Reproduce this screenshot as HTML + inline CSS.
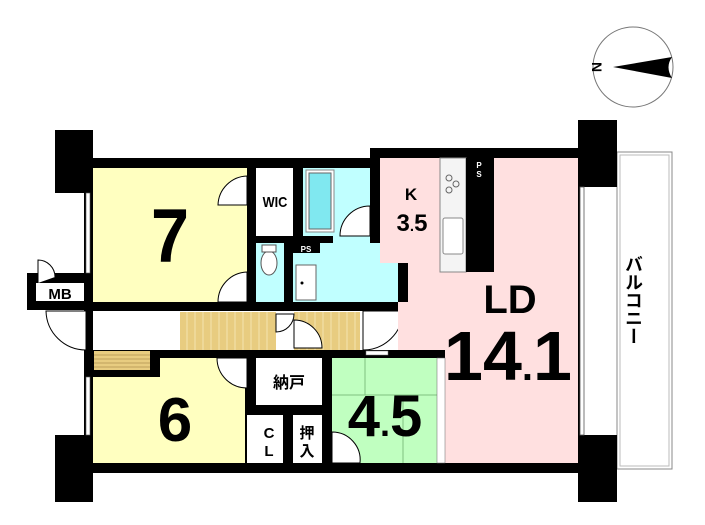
<!DOCTYPE html>
<html><head><meta charset="utf-8"><style>
html,body{margin:0;padding:0;background:#fff;}
svg{display:block;}
text{font-family:"Liberation Sans","Noto Sans CJK JP",sans-serif;font-weight:bold;fill:#000;}
</style></head><body>
<svg width="705" height="525" viewBox="0 0 705 525" xmlns="http://www.w3.org/2000/svg">
<circle cx="633" cy="67" r="40" fill="#fff" stroke="#777" stroke-width="1"/>
<path d="M613 67 L672 57 Q665 67 672 78 Z" fill="#000"/>
<text x="0" y="0" font-size="14" font-family="Liberation Serif" transform="translate(592,67) rotate(90)" text-anchor="middle">N</text>

<rect x="617" y="152" width="55" height="317" fill="#fff" stroke="#888" stroke-width="1"/>
<rect x="620" y="155" width="49" height="311" fill="none" stroke="#bbb" stroke-width="1"/>

<rect x="84" y="158" width="296" height="200" fill="#000"/>
<rect x="370" y="148" width="210" height="325" fill="#000"/>
<rect x="84" y="340" width="290" height="133" fill="#000"/>
<rect x="27" y="273" width="66" height="37" fill="#000"/>

<rect x="55" y="130" width="38" height="63" fill="#000"/>
<rect x="55" y="435" width="38" height="67" fill="#000"/>
<rect x="578" y="120" width="39" height="67" fill="#000"/>
<rect x="578" y="435" width="39" height="67" fill="#000"/>

<rect x="93" y="168" width="154" height="134" fill="#ffffc0"/>
<text x="170" y="262" font-size="76" text-anchor="middle" transform="translate(170,0) scale(0.9,1) translate(-170,0)">7</text>
<rect x="256" y="168" width="37" height="68" fill="#fff"/>
<text x="275" y="207" font-size="15" text-anchor="middle" transform="translate(275,0) scale(0.85,1) translate(-275,0)">WIC</text>
<rect x="303" y="168" width="67" height="68" fill="#c0ffff"/>
<rect x="306" y="170" width="28" height="62" fill="#fff" stroke="#888"/>
<rect x="309" y="173" width="22" height="56" fill="#80e8f0" stroke="#666"/>
<rect x="256" y="243" width="28" height="59" fill="#c0ffff"/>
<ellipse cx="269" cy="263" rx="8" ry="12" fill="#fff" stroke="#555"/>
<rect x="262" y="245" width="14" height="7" fill="#fff" stroke="#555"/>
<rect x="293" y="243" width="105" height="59" fill="#c0ffff"/>
<rect x="333" y="236" width="37" height="10" fill="#c0ffff"/>
<rect x="293" y="243" width="27" height="10" fill="#000"/>
<text x="306" y="252" font-size="8" text-anchor="middle" style="fill:#fff">PS</text>
<rect x="296" y="265" width="20" height="35" fill="#fff" stroke="#666"/>
<circle cx="302" cy="283" r="1.5" fill="#000"/>
<rect x="36" y="283" width="48" height="18" fill="#fff"/>
<text x="60" y="299" font-size="15" text-anchor="middle">MB</text>
<path d="M38 283 V260 A17 17 0 0 1 55 277" fill="#fff" stroke="#000"/>
<rect x="93" y="311" width="310" height="39" fill="#fff"/>
<rect x="180" y="312" width="180" height="38" fill="#e8cc80"/>
<g stroke="#f4e4b0" stroke-width="1">
<line x1="187" y1="312" x2="187" y2="350"/><line x1="195" y1="312" x2="195" y2="350"/><line x1="203" y1="312" x2="203" y2="350"/><line x1="211" y1="312" x2="211" y2="350"/><line x1="219" y1="312" x2="219" y2="350"/><line x1="227" y1="312" x2="227" y2="350"/><line x1="235" y1="312" x2="235" y2="350"/><line x1="243" y1="312" x2="243" y2="350"/><line x1="251" y1="312" x2="251" y2="350"/><line x1="259" y1="312" x2="259" y2="350"/><line x1="267" y1="312" x2="267" y2="350"/><line x1="283" y1="312" x2="283" y2="350"/><line x1="291" y1="312" x2="291" y2="350"/><line x1="299" y1="312" x2="299" y2="350"/><line x1="307" y1="312" x2="307" y2="350"/><line x1="315" y1="312" x2="315" y2="350"/><line x1="323" y1="312" x2="323" y2="350"/><line x1="331" y1="312" x2="331" y2="350"/><line x1="339" y1="312" x2="339" y2="350"/><line x1="347" y1="312" x2="347" y2="350"/><line x1="355" y1="312" x2="355" y2="350"/>
</g>
<rect x="276" y="312" width="18" height="38" fill="#fff"/>
<path d="M46 311 A40 40 0 0 0 86 350 V311 Z" fill="#fff" stroke="#000"/>
<path d="M403 311 A40 40 0 0 1 363 350 V311 Z" fill="#fff" stroke="#000"/>
<path d="M218 302 A30 30 0 0 1 247 272 V302 Z" fill="#fff" stroke="#000"/>
<path d="M218 205 A30 30 0 0 1 247 176 V205 Z" fill="#fff" stroke="#000"/>
<path d="M340 236 A30 30 0 0 1 370 206 V236 Z" fill="#fff" stroke="#000"/>
<path d="M276 332 A18 18 0 0 0 294 314 H276 Z" fill="#fff" stroke="#000"/>
<path d="M294 320 A28 28 0 0 1 322 348 H294 Z" fill="#fff" stroke="#000"/>

<rect x="380" y="158" width="198" height="105" fill="#ffe0e0"/>
<rect x="408" y="263" width="170" height="200" fill="#ffe0e0"/>
<rect x="398" y="302" width="10" height="48" fill="#ffe0e0"/>
<rect x="332" y="350" width="113" height="8" fill="#000"/>
<rect x="445" y="350" width="133" height="113" fill="#ffe0e0"/>
<rect x="366" y="351" width="22" height="4" fill="#fff" stroke="#777" stroke-width="0.5"/>
<rect x="440" y="158" width="26" height="114" fill="#f4f4f4" stroke="#888"/>
<circle cx="449" cy="178" r="3" fill="none" stroke="#666"/><circle cx="456" cy="184" r="3" fill="none" stroke="#666"/><circle cx="449" cy="190" r="3" fill="none" stroke="#666"/>
<rect x="443" y="218" width="20" height="36" rx="2" fill="#fff" stroke="#888"/>
<rect x="466" y="158" width="28" height="114" fill="#000"/>
<text x="479" y="168" font-size="8" text-anchor="middle" style="fill:#fff">P</text>
<text x="479" y="177" font-size="8" text-anchor="middle" style="fill:#fff">S</text>
<text x="411" y="200" font-size="17" text-anchor="middle">K</text>
<text x="412" y="231" font-size="24" text-anchor="middle">3<tspan font-size="15">.</tspan>5</text>
<text x="510" y="313" font-size="40" text-anchor="middle">LD</text>
<text x="508" y="380" font-size="70" text-anchor="middle">14<tspan font-size="40">.</tspan>1</text>
<rect x="580" y="187" width="4" height="248" fill="#fff" stroke="#555" stroke-width="0.8"/>
<text font-size="18" transform="translate(633,300)" text-anchor="middle" writing-mode="tb">バルコニー</text>

<rect x="93" y="377" width="152" height="86" fill="#ffffc0"/>
<rect x="160" y="358" width="85" height="20" fill="#ffffc0"/>
<rect x="94" y="351" width="56" height="19" fill="#e8cc80"/>
<g stroke="#b09050" stroke-width="0.7"><line x1="94" y1="355" x2="150" y2="355"/><line x1="94" y1="359" x2="150" y2="359"/><line x1="94" y1="363" x2="150" y2="363"/><line x1="94" y1="367" x2="150" y2="367"/></g>
<path d="M217 358 A30 30 0 0 0 247 388 V358 Z" fill="#fff" stroke="#000"/>
<text x="175" y="441" font-size="62" text-anchor="middle">6</text>
<rect x="256" y="358" width="66" height="47" fill="#fff"/>
<text x="289" y="388" font-size="16" text-anchor="middle">納戸</text>
<rect x="247" y="415" width="9" height="48" fill="#fff"/>
<rect x="256" y="415" width="27" height="48" fill="#fff"/>
<text x="269" y="438" font-size="15" text-anchor="middle">C</text>
<text x="269" y="456" font-size="15" text-anchor="middle">L</text>
<rect x="293" y="415" width="29" height="48" fill="#fff"/>
<text x="307" y="438" font-size="15" text-anchor="middle">押</text>
<text x="307" y="456" font-size="15" text-anchor="middle">入</text>
<rect x="332" y="358" width="105" height="105" fill="#c0ffc0"/>
<g stroke="#80c080" stroke-width="1" fill="none"><line x1="365" y1="358" x2="365" y2="395"/><line x1="332" y1="395" x2="437" y2="395"/><line x1="403" y1="395" x2="403" y2="463"/></g>
<rect x="437" y="358" width="8" height="105" fill="#fff" stroke="#666" stroke-width="0.5"/>
<path d="M332 432 A28 28 0 0 1 360 463 H332 Z" fill="#fff" stroke="#000"/>
<text x="385" y="436" font-size="58" text-anchor="middle">4<tspan font-size="36">.</tspan>5</text>
<rect x="86" y="193" width="4" height="80" fill="#fff" stroke="#555" stroke-width="0.6"/>
<rect x="86" y="377" width="4" height="58" fill="#fff" stroke="#555" stroke-width="0.6"/>
</svg>
</body></html>
